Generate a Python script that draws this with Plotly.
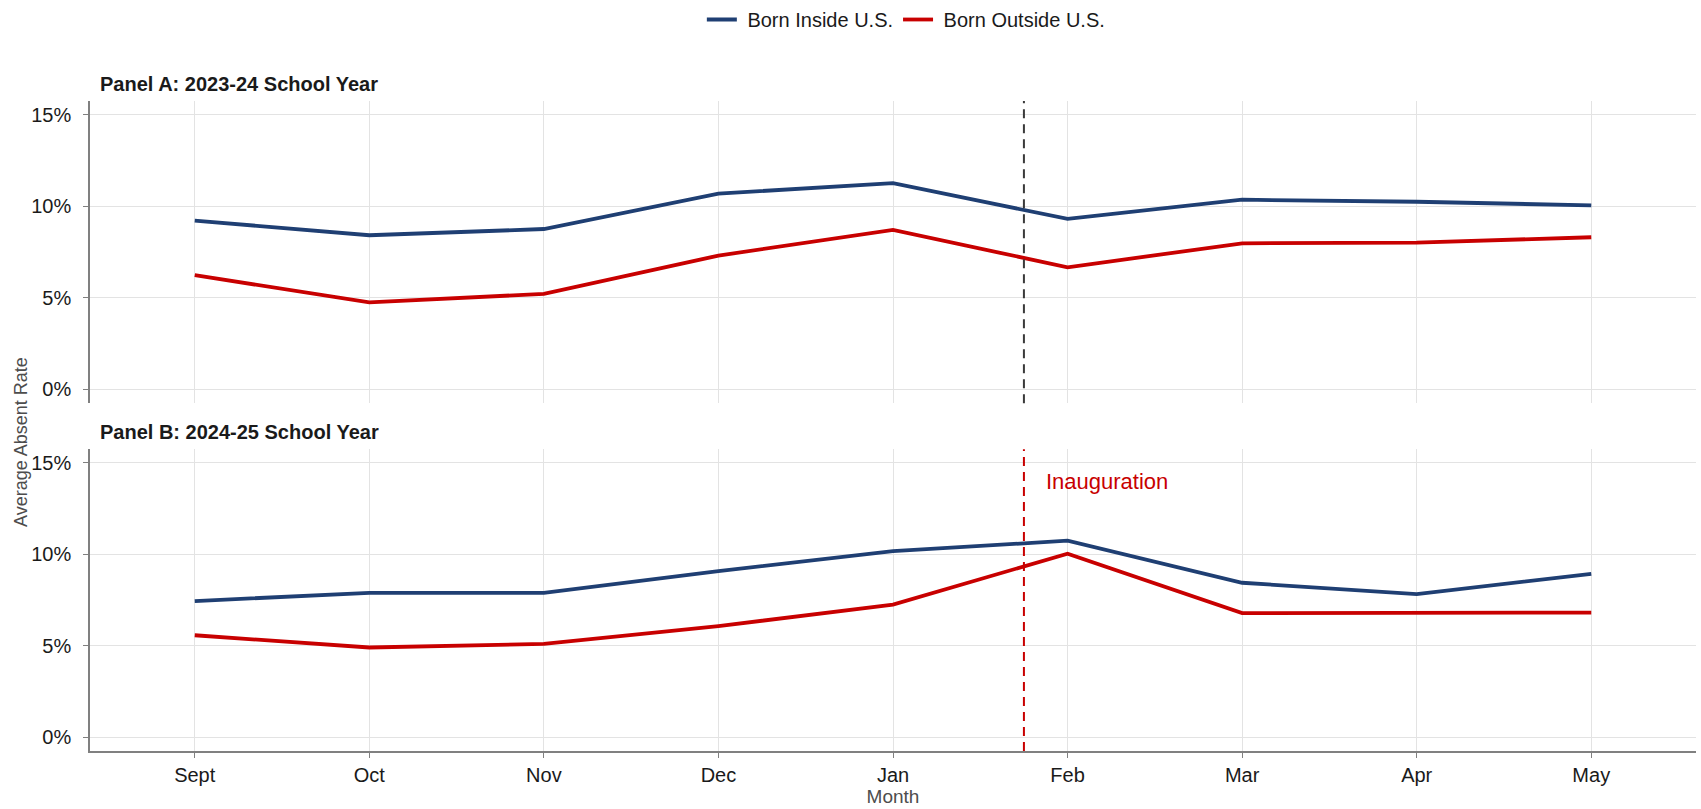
import plotly.graph_objects as go

months = ["Sept", "Oct", "Nov", "Dec", "Jan", "Feb", "Mar", "Apr", "May"]

# Panel A: 2023-24 school year (average absent rate, %)
a_inside = [9.22, 8.42, 8.76, 10.69, 11.27, 9.31, 10.36, 10.25, 10.05]
a_outside = [6.24, 4.75, 5.22, 7.31, 8.71, 6.67, 7.98, 8.02, 8.31]

# Panel B: 2024-25 school year
b_inside = [7.45, 7.90, 7.90, 9.09, 10.18, 10.75, 8.45, 7.83, 8.94]
b_outside = [5.58, 4.91, 5.11, 6.08, 7.26, 10.04, 6.79, 6.79, 6.82]

y_ticks = [0, 5, 10, 15]
y_tick_labels = ["0%", "5%", "10%", "15%"]

inauguration_x = 4.75  # position between Jan and Feb (month index)

BLUE = "#1F3F73"
RED = "#C80000"
FONT = "Liberation Sans, Arial, sans-serif"

x = list(range(len(months)))

fig = go.Figure()
fig.add_trace(go.Scatter(x=x, y=a_inside, mode="lines", name=" Born Inside U.S.",
                         line=dict(color=BLUE, width=3.8), xaxis="x", yaxis="y",
                         legendgroup="in"))
fig.add_trace(go.Scatter(x=x, y=a_outside, mode="lines", name=" Born Outside U.S.",
                         line=dict(color=RED, width=3.8), xaxis="x", yaxis="y",
                         legendgroup="out"))
fig.add_trace(go.Scatter(x=x, y=b_inside, mode="lines", name=" Born Inside U.S.",
                         line=dict(color=BLUE, width=3.8), xaxis="x2", yaxis="y2",
                         legendgroup="in", showlegend=False))
fig.add_trace(go.Scatter(x=x, y=b_outside, mode="lines", name=" Born Outside U.S.",
                         line=dict(color=RED, width=3.8), xaxis="x2", yaxis="y2",
                         legendgroup="out", showlegend=False))

grid = "#E3E3E3"
axis_line = "#808080"
common_x = dict(range=[-0.6, 8.6], tickmode="array", tickvals=x, ticktext=months,
                showgrid=True, gridcolor=grid, gridwidth=1, zeroline=False,
                tickfont=dict(family=FONT, size=20, color="#1a1a1a"), fixedrange=True)
common_y = dict(range=[-0.75, 15.75], tickmode="array", tickvals=y_ticks,
                ticktext=y_tick_labels, showgrid=True, gridcolor=grid, gridwidth=1,
                zeroline=False, showline=True, linecolor=axis_line, linewidth=1.5,
                ticks="outside", ticklen=5, tickcolor=axis_line, ticklabelstandoff=8,
                tickfont=dict(family=FONT, size=20, color="#1a1a1a"))

fig.update_layout(
    width=1701, height=809,
    paper_bgcolor="white", plot_bgcolor="white",
    margin=dict(l=90, r=5, t=101, b=58),
    font=dict(family=FONT, size=19, color="#1a1a1a"),
    xaxis=dict(**common_x, domain=[0, 1], anchor="y", showticklabels=False,
               showline=False, ticks=""),
    yaxis=dict(**common_y, domain=[0.5351, 1], anchor="x"),
    xaxis2=dict(**common_x, domain=[0, 1], anchor="y2", showline=True,
                linecolor=axis_line, linewidth=1.5, ticks="outside", ticklen=5,
                tickcolor=axis_line, matches="x",
                title=dict(text="Month", font=dict(family=FONT, size=19, color="#4D4D4D"),
                           standoff=3)),
    yaxis2=dict(**common_y, domain=[0, 0.4642], anchor="x2"),
    legend=dict(orientation="h", x=0.508, xanchor="center", xref="paper",
                y=1.0, yanchor="top", yref="container",
                font=dict(family=FONT, size=20, color="#1a1a1a"),
                itemwidth=30, tracegroupgap=0, bgcolor="rgba(0,0,0,0)"),
    showlegend=True,
)

fig.add_shape(type="line", x0=inauguration_x, x1=inauguration_x, xref="x",
              y0=0, y1=1, yref="y domain",
              line=dict(color="#3A3A3A", width=2, dash="9px,6px"))
fig.add_shape(type="line", x0=inauguration_x, x1=inauguration_x, xref="x2",
              y0=0, y1=1, yref="y2 domain",
              line=dict(color=RED, width=2, dash="9px,6px"))

fig.add_annotation(x=inauguration_x, y=14, xref="x2", yref="y2", text="Inauguration",
                   showarrow=False, xanchor="left", yanchor="middle", xshift=20,
                   font=dict(family=FONT, size=22, color=RED))

fig.add_annotation(x=0, y=1.0269, xref="paper", yref="paper", xshift=8,
                   text="<b>Panel A: 2023-24 School Year</b>", showarrow=False,
                   xanchor="left", yanchor="middle",
                   font=dict(family=FONT, size=20, color="#1a1a1a"))
fig.add_annotation(x=0, y=0.4908, xref="paper", yref="paper", xshift=8,
                   text="<b>Panel B: 2024-25 School Year</b>", showarrow=False,
                   xanchor="left", yanchor="middle",
                   font=dict(family=FONT, size=20, color="#1a1a1a"))
fig.add_annotation(x=-0.0425, y=0.475, xref="paper", yref="paper",
                   text="Average Absent Rate", textangle=-90, showarrow=False,
                   xanchor="center", yanchor="middle",
                   font=dict(family=FONT, size=18, color="#4D4D4D"))

fig.write_html("out.html")
